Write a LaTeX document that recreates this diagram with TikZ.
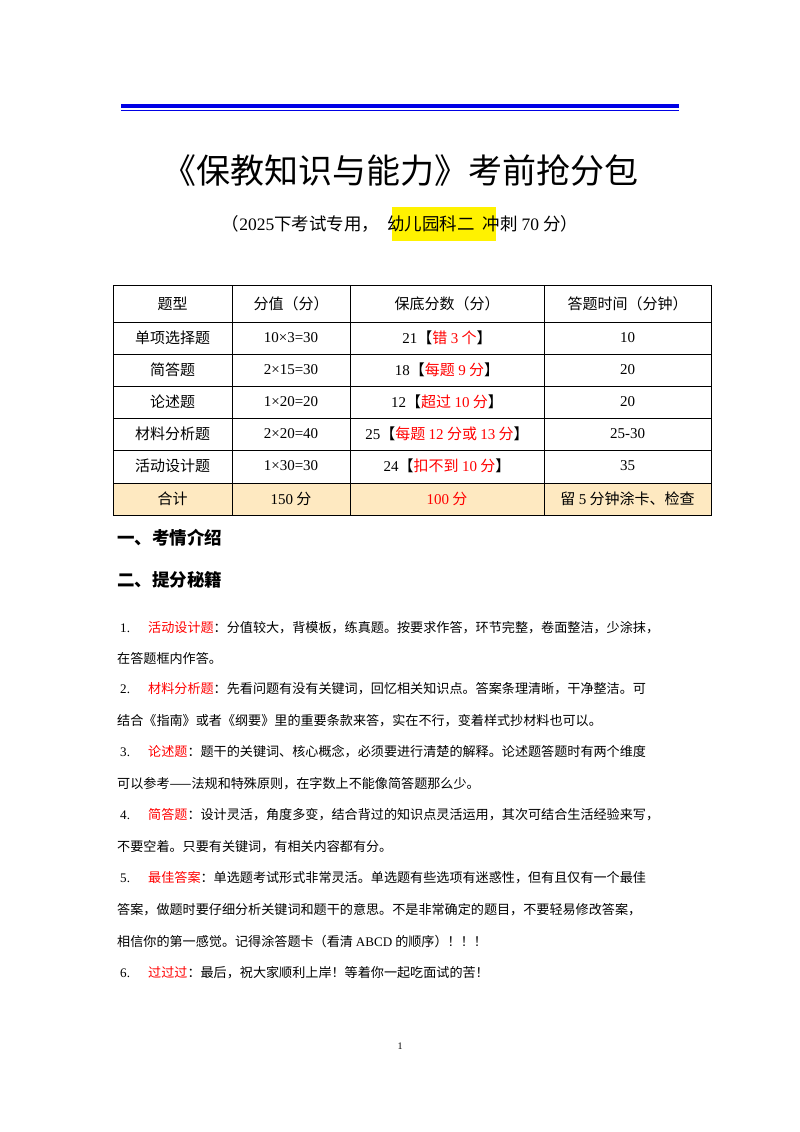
\documentclass[tikz,border=0pt]{standalone}
\usepackage{fontspec}
\setmainfont{Noto Sans CJK SC}
\newfontfamily\lat{Liberation Serif}
\begin{document}
\begin{tikzpicture}[x=1pt,y=-1pt,
  cell/.style={font=\fontsize{15}{15}\selectfont, anchor=center},
  line/.style={anchor=west, font=\fontsize{13.1}{13}\selectfont, inner sep=0},
  head/.style={anchor=west, font=\fontsize{17.5}{17.5}\selectfont\bfseries, inner sep=0}]
\useasboundingbox (0,0) rectangle (800,1132);
\fill[white] (0,0) rectangle (800,1132);
\draw[blue!90!black, line width=3.6pt] (121,106) -- (679,106);
\draw[blue!90!black, line width=1pt] (121,110.5) -- (679,110.5);
\node (title) at (400,171) {\fontsize{34}{34}\selectfont 《保教知识与能力》考前抢分包};
\fill[yellow] (392,207) rectangle (496,241);
\node (sub) at (400,224) {\fontsize{17.5}{17.5}\selectfont （{\lat 2025}下考试专用，\ \ 幼儿园科二\ \ 冲刺 {\lat 70} 分）};
% table
\fill[yellow!30!orange!22] (113,483) rectangle (711,515);
\draw[line width=0.6pt] (113,285) rectangle (711,515);
\foreach \y in {322,354,386,418,450,483} \draw[line width=0.6pt] (113,\y) -- (711,\y);
\foreach \x in {232,350,544} \draw[line width=0.6pt] (\x,285) -- (\x,515);
\foreach \y/\a/\b/\c/\d in {
 303.5/题型/分值（分）/保底分数（分）/答题时间（分钟）,
 338/单项选择题/{\lat 10×3=30}/{\lat 21}【{\color{red}错 {\lat 3} 个}】/{\lat 10},
 370/简答题/{\lat 2×15=30}/{\lat 18}【{\color{red}每题 {\lat 9} 分}】/{\lat 20},
 402/论述题/{\lat 1×20=20}/{\lat 12}【{\color{red}超过 {\lat 10} 分}】/{\lat 20},
 434/材料分析题/{\lat 2×20=40}/{\lat 25}【{\color{red}每题 {\lat 12} 分或 {\lat 13} 分}】/{\lat 25-30},
 466/活动设计题/{\lat 1×30=30}/{\lat 24}【{\color{red}扣不到 {\lat 10} 分}】/{\lat 35},
 499/合计/{\lat 150} 分/{\color{red}{\lat 100} 分}/留 {\lat 5} 分钟涂卡、检查}{
 \node[cell] at (172.5,\y) {\a};
 \node[cell] at (291,\y) {\b};
 \node[cell] at (447,\y) {\c};
 \node[cell] at (627.5,\y) {\d};
}
\node[head] (h1) at (117,538) {一、考情介绍};
\node[head] (h2) at (117,580) {二、提分秘籍};
\foreach \y/\n in {628/1.,689/2.,752/3.,815/4.,878/5.,973/6.}
  \node[line] at (120,\y) {\lat\n};
\node[line] at (148,628) {{\color{red}活动设计题}：分值较大，背模板，练真题。按要求作答，环节完整，卷面整洁，少涂抹，};
\node[line] at (117,659) {在答题框内作答。};
\node[line] at (148,689) {{\color{red}材料分析题}：先看问题有没有关键词，回忆相关知识点。答案条理清晰，干净整洁。可};
\node[line] at (117,721) {结合《指南》或者《纲要》里的重要条款来答，实在不行，变着样式抄材料也可以。};
\node[line] at (148,752) {{\color{red}论述题}：题干的关键词、核心概念，必须要进行清楚的解释。论述题答题时有两个维度};
\node[line] at (117,784) {可以参考——法规和特殊原则，在字数上不能像简答题那么少。};
\node[line] at (148,815) {{\color{red}简答题}：设计灵活，角度多变，结合背过的知识点灵活运用，其次可结合生活经验来写，};
\node[line] at (117,847) {不要空着。只要有关键词，有相关内容都有分。};
\node[line] at (148,878) {{\color{red}最佳答案}：单选题考试形式非常灵活。单选题有些选项有迷惑性，但有且仅有一个最佳};
\node[line] at (117,910) {答案，做题时要仔细分析关键词和题干的意思。不是非常确定的题目，不要轻易修改答案，};
\node[line] at (117,942) {相信你的第一感觉。记得涂答题卡（看清 {\lat ABCD} 的顺序）！！！};
\node[line] at (148,973) {{\color{red}过过过}：最后，祝大家顺利上岸！等着你一起吃面试的苦！};
\node[font=\fontsize{10}{10}\selectfont] (pg) at (400,1046) {\lat 1};
\end{tikzpicture}
\end{document}
